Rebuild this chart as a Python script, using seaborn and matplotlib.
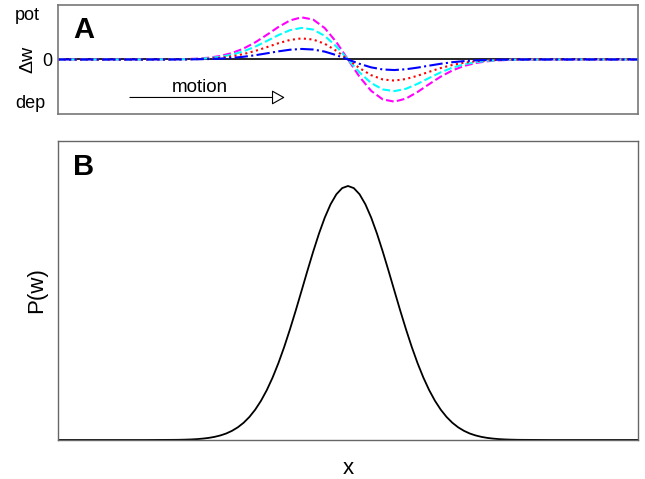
import matplotlib
matplotlib.use("Agg")
import matplotlib.pyplot as plt
import seaborn as sns

# positions along the track, panel A
x_a = [0, 5, 10, 15,
       20, 22, 24, 26, 28, 30, 32, 34, 36, 38, 40, 42, 44, 46, 48, 50,
       52, 54, 56, 58, 60, 62, 64, 66, 68, 70, 72, 74, 76, 78, 80,
       85, 90, 95, 100]

# panel A: weight change
dw_magenta = [0, 0, 0, 0,
              .004, .009, .019, .041, .081, .147, .249, .389, .560, .739, .889, .959, .908, .714, .395, 0,
              -.395, -.714, -.908, -.959, -.889, -.739, -.560, -.389, -.249, -.147, -.081, -.041, -.019, -.009, -.004,
              0, 0, 0, 0]
dw_cyan = [0, 0, 0, 0,
           .003, .006, .014, .031, .060, .110, .186, .292, .420, .554, .667, .719, .681, .536, .296, 0,
           -.296, -.536, -.681, -.719, -.667, -.554, -.420, -.292, -.186, -.110, -.060, -.031, -.014, -.006, -.003,
           0, 0, 0, 0]
dw_red = [0, 0, 0, 0,
          .002, .004, .010, .021, .040, .073, .124, .194, .280, .370, .444, .480, .454, .357, .197, 0,
          -.197, -.357, -.454, -.480, -.444, -.370, -.280, -.194, -.124, -.073, -.040, -.021, -.010, -.004, -.002,
          0, 0, 0, 0]
dw_blue = [0, 0, 0, 0,
           .001, .002, .005, .010, .020, .037, .062, .097, .140, .185, .222, .240, .227, .179, .099, 0,
           -.099, -.179, -.227, -.240, -.222, -.185, -.140, -.097, -.062, -.037, -.020, -.010, -.005, -.002, -.001,
           0, 0, 0, 0]
dw_zero = [0] * len(x_a)

# positions along the track, panel B (finer)
x_b = [0, 5, 10, 15,
       20, 21, 22, 23, 24, 25, 26, 27, 28, 29, 30, 31, 32, 33, 34, 35, 36, 37, 38, 39,
       40, 41, 42, 43, 44, 45, 46, 47, 48, 49, 50, 51, 52, 53, 54, 55, 56, 57, 58, 59,
       60, 61, 62, 63, 64, 65, 66, 67, 68, 69, 70, 71, 72, 73, 74, 75, 76, 77, 78, 79, 80,
       85, 90, 95, 100]

# panel B: place field profile
p_w = [0, 0, 0, 0,
       .0006, .0009, .0015, .0023, .0036, .0056, .0084, .0124, .018, .0256,
       .0361, .0499, .0678, .0907, .1193, .1543, .1963, .2457, .3024, .3661,
       .436, .5103, .5877, .6657, .7415, .8125, .8756, .928, .9673, .9917, 1.0,
       .9917, .9673, .928, .8756, .8125, .7415, .6657, .5877, .5103, .436,
       .3661, .3024, .2457, .1963, .1543, .1193, .0907, .0678, .0499, .0361,
       .0256, .018, .0124, .0084, .0056, .0036, .0023, .0015, .0009, .0006,
       0, 0, 0, 0]

sns.set_style("white")
plt.rcParams['font.family'] = ['Liberation Sans', 'DejaVu Sans']
plt.rcParams['text.color'] = 'black'
plt.rcParams['axes.labelcolor'] = 'black'
plt.rcParams['ytick.color'] = 'black'

fig = plt.figure(figsize=(6.45, 4.79), dpi=100)
axA = fig.add_axes([0.0899, 0.762, 0.8992, 0.2276])
axB = fig.add_axes([0.0899, 0.0814, 0.8992, 0.6242])

# --- panel A
sns.lineplot(x=x_a, y=dw_zero, color='black', lw=1.2, ax=axA)
sns.lineplot(x=x_a, y=dw_magenta, color='#ff00ff', lw=1.5, linestyle='--', ax=axA)
sns.lineplot(x=x_a, y=dw_cyan, color='#00ffff', lw=1.5, linestyle='--', ax=axA)
sns.lineplot(x=x_a, y=dw_red, color='#ff0000', lw=1.5, linestyle=':', ax=axA)
sns.lineplot(x=x_a, y=dw_blue, color='#0000ff', lw=1.5, linestyle='-.', ax=axA)
axA.set_xlim(0, 100)
axA.set_ylim(-1.24, 1.24)
axA.set_xticks([])
axA.set_yticks([0])
axA.set_yticklabels(['0'], fontsize=13)
axA.tick_params(axis='y', length=0, pad=4)
axA.set_ylabel('Δw', fontsize=14, labelpad=4)
tr = axA.get_yaxis_transform()
axA.text(-0.074, 1, 'pot', transform=tr, fontsize=13, ha='left', va='center')
axA.text(-0.074, -1, 'dep', transform=tr, fontsize=13, ha='left', va='center')
axA.text(0.026, 0.697, 'A', transform=axA.transAxes, fontsize=21, fontweight='bold')
axA.annotate('', xy=(39.1, -0.864), xytext=(12.4, -0.864),
             arrowprops=dict(arrowstyle='-|>,head_length=0.8,head_width=0.45',
                             fc='white', ec='black', lw=0.8, mutation_scale=10,
                             shrinkA=0, shrinkB=0))
axA.text(24.5, -0.63, 'motion', fontsize=13.5, ha='center', va='center')
for s in axA.spines.values():
    s.set_color('#777777')
    s.set_linewidth(1.2)

# --- panel B
sns.lineplot(x=x_b, y=p_w, color='black', lw=1.3, ax=axB)
axB.set_xlim(0, 100)
axB.set_ylim(0, 1.177)
axB.set_xticks([])
axB.set_yticks([])
axB.set_xlabel('x', fontsize=16, labelpad=13)
axB.set_ylabel('P(w)', fontsize=16, labelpad=8)
axB.text(0.026, 0.886, 'B', transform=axB.transAxes, fontsize=21, fontweight='bold')
for s in axB.spines.values():
    s.set_color('#666666')
    s.set_linewidth(1.0)

fig.savefig('out.png', dpi=100)
